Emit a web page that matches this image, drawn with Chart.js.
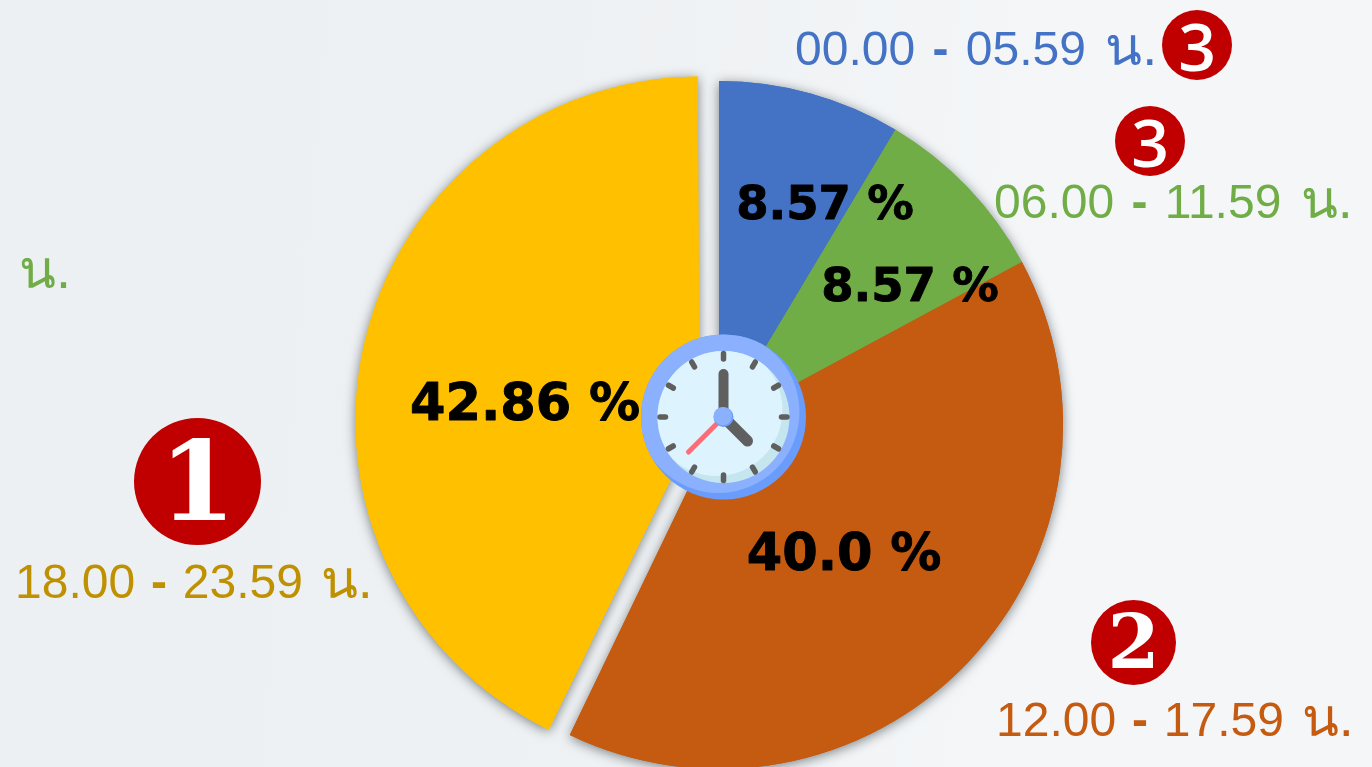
<!DOCTYPE html>
<html lang="th">
<head>
<meta charset="utf-8">
<title>Pie</title>
<script src="https://cdn.jsdelivr.net/npm/chart.js@4/dist/chart.umd.min.js"></script>
<style>
html,body{margin:0;padding:0;width:1372px;height:767px;overflow:hidden;background:linear-gradient(95deg,#ecf0f2 0%,#eef1f3 40%,#f4f6f8 75%,#f5f6f8 100%);}
#wrap{position:absolute;left:0;top:0;width:1372px;height:767px;}
canvas{position:absolute;left:0;top:0;}
.t{position:absolute;white-space:nowrap;font-family:"Liberation Sans",Arial,sans-serif;font-size:48px;line-height:48px;word-spacing:4px;}
.t b{font-weight:bold;}
.t i{font-style:normal;font-size:54px;line-height:48px;margin-left:2px;}
.n{position:absolute;border-radius:50%;background:#C00000;color:#fff;display:flex;align-items:center;justify-content:center;line-height:1;}
.s{font-family:"DejaVu Serif",serif;font-weight:bold;}
.o{font-family:"Open Sans",sans-serif;font-weight:600;}
</style>
</head>
<body>
<div id="wrap">
<canvas id="c" width="1372" height="767"></canvas>
<div class="t" style="left:795px;top:22px;color:#4472C4">00.00 <b>-</b> 05.59 <i>น.</i></div>
<div class="t" style="left:994px;top:175px;color:#70AD47">06.00 <b>-</b> 11.59 <i>น.</i></div>
<div class="t" style="left:996px;top:693px;color:#C55A11;word-spacing:2.5px">12.00 <b>-</b> 17.59 <i>น.</i></div>
<div class="t" style="left:15px;top:555px;color:#BF9000;word-spacing:2.5px">18.00 <b>-</b> 23.59 <i>น.</i></div>
<div class="t" style="left:19px;top:245px;color:#70AD47"><i style="margin-left:0">น.</i></div>
<div class="n s" style="left:134px;top:418px;width:127px;height:127px;font-size:110px">1</div>
<div class="n s" style="left:1091px;top:600px;width:85px;height:85px;font-size:75px">2</div>
<div class="n o" style="left:1162px;top:10px;width:70px;height:70px;font-size:66px">3</div>
<div class="n o" style="left:1115px;top:106px;width:70px;height:70px;font-size:66px">3</div>
</div>
<script>
const categories = ["00.00 - 05.59 น.", "06.00 - 11.59 น.", "12.00 - 17.59 น.", "18.00 - 23.59 น."];
const seriesValues = [8.57, 8.57, 40.0, 42.86];
const valueLabels = ["8.57 %", "8.57 %", "40.0 %", "42.86 %"];
const sliceColors = ["#4472C4", "#70AD47", "#C55A11", "#FFC000"];
const sliceOffsets = [0, 0, 0, 80];
const labelShift = [[106,-218],[191,-136],[125,132],[-194,-18]];
const labelFontPx = [46.5,46.5,51,51];

let radiusFixed = false;
const pieShadow = {
  id:'pieShadow',
  beforeDatasetsDraw(chart){
    const ctx = chart.ctx;
    const arcs = chart.getDatasetMeta(0).data;
    if(!radiusFixed){
      // the library grows an exploded arc's radius; keep it equal to the others
      arcs.forEach(a=>{
        const off=(a.options.offset||0)/4;
        a.outerRadius -= off*(1-Math.sin(Math.min(Math.PI,a.circumference)));
      });
      radiusFixed=true;
    }
    ctx.save();
    ctx.shadowColor='rgba(40,50,55,0.6)';
    ctx.shadowBlur=12;
    ctx.shadowOffsetX=0;
    ctx.shadowOffsetY=2;
    arcs.forEach(a=>a.draw(ctx));
    ctx.restore();
  }
};

function disc(ctx,x,y,r,fill){ctx.beginPath();ctx.arc(x,y,r,0,Math.PI*2);ctx.fillStyle=fill;ctx.fill();}
function stroke(ctx,x1,y1,x2,y2,w,col){ctx.beginPath();ctx.moveTo(x1,y1);ctx.lineTo(x2,y2);ctx.lineWidth=w;ctx.strokeStyle=col;ctx.lineCap='round';ctx.stroke();}

const clockAndLabels = {
  id:'clockAndLabels',
  afterDatasetsDraw(chart){
    const ctx = chart.ctx;
    const arc0 = chart.getDatasetMeta(0).data[0];
    const cx0 = arc0.x, cy0 = arc0.y;
    const x = cx0+4.5, y = cy0-8;
    ctx.save();
    disc(ctx,x,y,82.5,'#6A9DFB');
    ctx.save();ctx.beginPath();ctx.arc(x,y,82.5,0,Math.PI*2);ctx.clip();
    disc(ctx,x-5,y-5,81,'#8AB0FE');ctx.restore();
    disc(ctx,x,y,66,'#C5E6EF');
    ctx.save();ctx.beginPath();ctx.arc(x,y,66,0,Math.PI*2);ctx.clip();
    disc(ctx,x-7,y-7,66,'#DDF3FE');ctx.restore();
    for(let i=0;i<12;i++){
      const a=i*Math.PI/6, sx=Math.sin(a), cy=-Math.cos(a);
      stroke(ctx,x+sx*63.5,y+cy*63.5,x+sx*58,y+cy*58,5.5,'#5F5F5F');
    }
    stroke(ctx,x,y,x,y-43,10,'#5F5F5F');
    stroke(ctx,x,y,x+24,y+24,11,'#5F5F5F');
    stroke(ctx,x,y,x-35,y+35,5,'#FF6B76');
    disc(ctx,x,y,10,'#6A9DFB');
    disc(ctx,x-0.7,y-0.9,9.2,'#8AB0FE');
    ctx.fillStyle='#000';
    ctx.strokeStyle='#000';
    ctx.lineWidth=0.9;
    ctx.lineJoin='round';
    ctx.textAlign='center';
    ctx.textBaseline='middle';
    valueLabels.forEach((t,i)=>{
      ctx.font='bold '+labelFontPx[i]+'px "DejaVu Sans"';
      ctx.fillText(t,cx0+labelShift[i][0],cy0+labelShift[i][1]);
      ctx.strokeText(t,cx0+labelShift[i][0],cy0+labelShift[i][1]);
    });
    ctx.restore();
  }
};

new Chart(document.getElementById('c'),{
  type:'pie',
  data:{labels:categories,datasets:[{data:seriesValues,backgroundColor:sliceColors,borderWidth:0,offset:sliceOffsets,hoverOffset:0}]},
  options:{
    responsive:false,animation:false,
    radius:344,
    layout:{padding:{left:66,right:0,top:83,bottom:0}},
    plugins:{legend:{display:false},tooltip:{enabled:false}}
  },
  plugins:[pieShadow,clockAndLabels]
});
</script>
</body>
</html>
